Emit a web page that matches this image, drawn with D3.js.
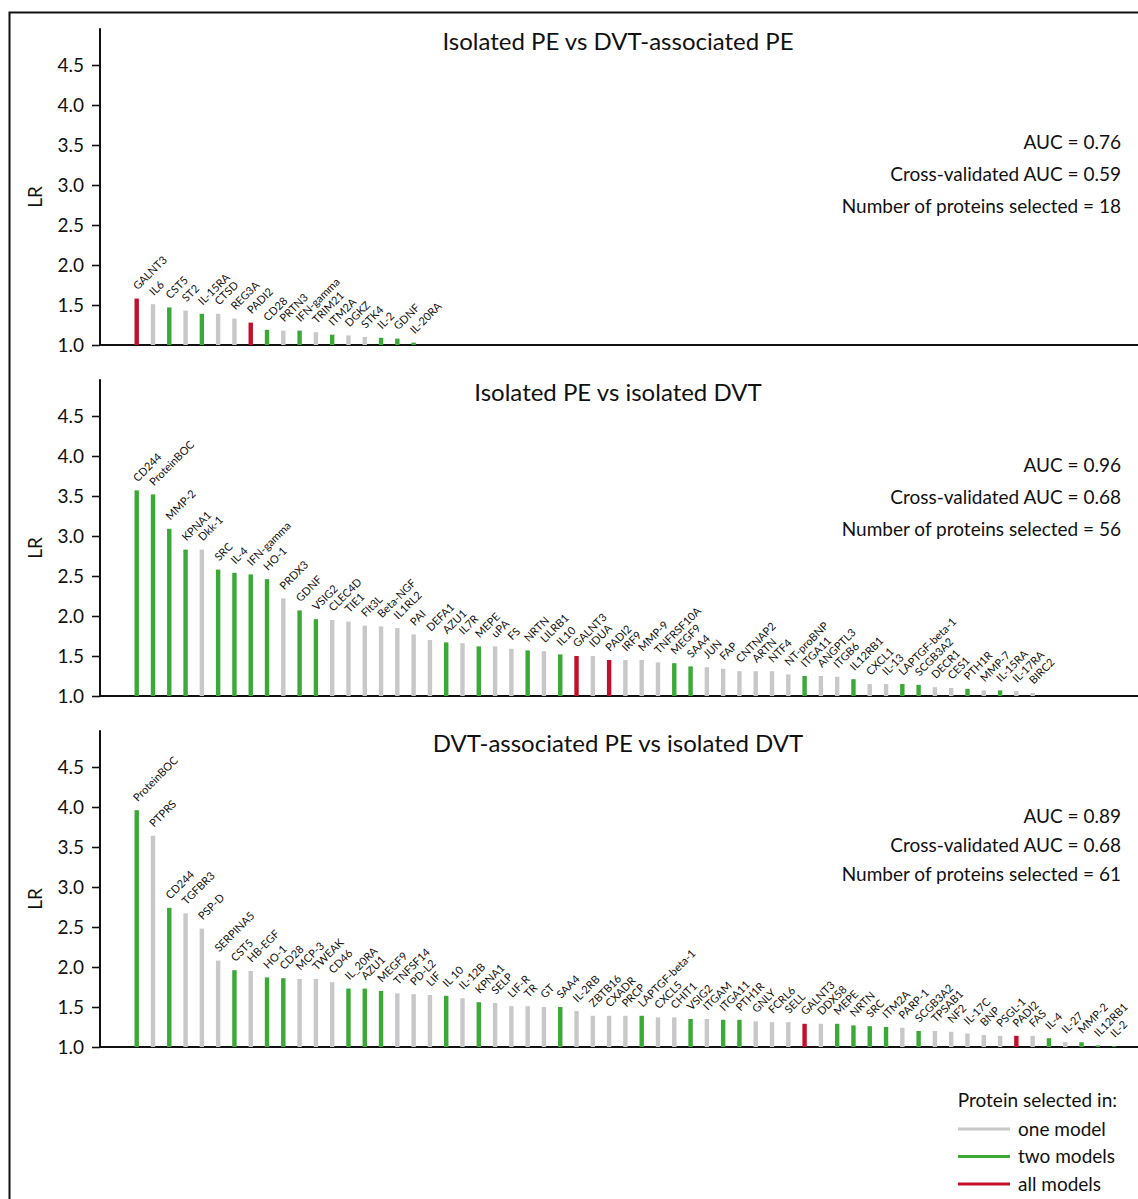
<!DOCTYPE html>
<html>
<head>
<meta charset="utf-8">
<script src="https://cdn.jsdelivr.net/npm/d3@7"></script>
<style>
  body { margin: 0; background: #fff; }
  svg { display: block; }
  text { font-family: Lato, "Open Sans", sans-serif; fill: #111; }
</style>
</head>
<body>
<svg id="chart" width="1138" height="1199"></svg>
<script>
// Model selection codes: 1 = one model, 2 = two models, 3 = all models
const p1Proteins = ["GALNT3","IL6","CST5","ST2","IL-15RA","CTSD","REG3A","PADI2","CD28","PRTN3",
  "IFN-gamma","TRIM21","ITM2A","DGKZ","STK4","IL-2","GDNF","IL-20RA"];
const p1LR = [1.58,1.51,1.47,1.43,1.39,1.39,1.33,1.28,1.19,1.18,1.18,1.16,1.13,1.12,1.10,1.09,1.08,1.03];
const p1Models = [3,1,2,1,2,1,1,3,2,1,2,1,2,1,1,2,2,2];

const p2Proteins = ["CD244","ProteinBOC","MMP-2","KPNA1","Dkk-1","SRC","IL-4","IFN-gamma","HO-1","PRDX3",
  "GDNF","VSIG2","CLEC4D","TIE1","Flt3L","Beta-NGF","IL1RL2","PAI","DEFA1","AZU1",
  "IL7R","MEPE","uPA","FS","NRTN","LILRB1","IL10","GALNT3","IDUA","PADI2",
  "IRF9","MMP-9","TNFRSF10A","MEGF9","SAA4","JUN","FAP","CNTNAP2","ARTN","NTF4",
  "NT-proBNP","ITGA11","ANGPTL3","ITGB6","IL12RB1","CXCL1","IL-13","LAPTGF-beta-1","SCGB3A2","DECR1",
  "CES1","PTH1R","MMP-7","IL-15RA","IL-17RA","BIRC2"];
const p2LR = [3.57,3.52,3.09,2.83,2.83,2.58,2.54,2.52,2.46,2.22,
  2.07,1.96,1.95,1.93,1.88,1.87,1.85,1.77,1.70,1.67,
  1.66,1.62,1.62,1.59,1.57,1.56,1.52,1.50,1.50,1.45,
  1.45,1.45,1.42,1.41,1.37,1.36,1.34,1.31,1.31,1.31,
  1.27,1.25,1.25,1.24,1.21,1.15,1.15,1.15,1.14,1.11,
  1.10,1.09,1.07,1.07,1.06,1.04];
const p2Models = [2,2,2,2,1,2,2,2,2,1,
  2,2,1,1,1,1,1,1,1,2,
  1,2,1,1,2,1,2,3,1,3,
  1,1,1,2,2,1,1,1,1,1,
  1,2,1,1,2,1,1,2,2,1,
  1,2,1,2,1,1];

const p3Proteins = ["ProteinBOC","PTPRS","CD244","TGFBR3","PSP-D","SERPINA5","CST5","HB-EGF","HO-1","CD28",
  "MCP-3","TWEAK","CD46","IL_20RA","AZU1","MEGF9","TNFSF14","PD-L2","LIF","IL 10",
  "IL-12B","KPNA1","SELP","LIF-R","TR","GT","SAA4","IL-2RB","ZBTB16","CXADR",
  "PRCP","LAPTGF-beta-1","CXCL5","CHIT1","VSIG2","ITGAM","ITGA11","PTH1R","GNLY","FCRL6",
  "SELL","GALNT3","DDX58","MEPE","NRTN","SRC","ITM2A","PARP-1","SCGB3A2","TPSAB1",
  "NF2","IL-17C","BNP","PSGL-1","PADI2","FAS","IL-4","IL-27","MMP-2","IL12RB1","IL-2"];
const p3LR = [3.96,3.64,2.74,2.67,2.48,2.08,1.96,1.95,1.87,1.86,
  1.85,1.85,1.81,1.73,1.73,1.70,1.67,1.66,1.65,1.64,
  1.61,1.56,1.55,1.51,1.51,1.50,1.50,1.45,1.39,1.39,
  1.39,1.39,1.37,1.37,1.35,1.35,1.34,1.34,1.32,1.31,
  1.31,1.29,1.29,1.29,1.27,1.26,1.25,1.24,1.20,1.20,
  1.19,1.17,1.15,1.14,1.14,1.14,1.11,1.06,1.06,1.02,1.01];
const p3Models = [2,1,2,1,1,1,2,1,2,2,
  1,1,1,2,2,2,1,1,1,2,
  1,2,1,1,1,1,2,1,1,1,
  1,2,1,1,2,1,2,2,1,1,
  1,3,1,2,2,2,2,1,2,1,
  1,1,1,1,3,1,2,1,2,2,2];

const panelTitles = ["Isolated PE vs DVT-associated PE", "Isolated PE vs isolated DVT", "DVT-associated PE vs isolated DVT"];
const aucValues = [0.76, 0.96, 0.89];
const cvAucValues = [0.59, 0.68, 0.68];
const nSelected = [18, 56, 61];
const lrTicks = [1.0, 1.5, 2.0, 2.5, 3.0, 3.5, 4.0, 4.5];
const legendLabels = ["one model", "two models", "all models"];
const modelColors = ["#c8c8c8", "#3aa935", "#c40f2c"];

const panels = [
  { proteins: p1Proteins, lr: p1LR, models: p1Models },
  { proteins: p2Proteins, lr: p2LR, models: p2Models },
  { proteins: p3Proteins, lr: p3LR, models: p3Models }
];

const svg = d3.select("#chart");
const W = 1138;

// outer frame (top and left edges)
svg.append("path")
  .attr("d", "M9.5,1199 V12.5 H1138")
  .attr("fill", "none").attr("stroke", "#111").attr("stroke-width", 2);

const axisX = 100;
const panelGap = 351;
const x = d3.scaleLinear().domain([0, 60]).range([136.7, 1114.1]);
const color = m => modelColors[m - 1];
const statDy = [[142, 174, 206], [465, 497, 529], [816, 845, 874]];

panels.forEach((p, i) => {
  const base = 345 + i * panelGap;
  const y = d3.scaleLinear().domain([1, 5]).range([base, base - 320]);
  const g = svg.append("g");

  // y axis
  const ax = g.append("g")
    .attr("transform", `translate(${axisX},0)`)
    .call(d3.axisLeft(y).tickValues(lrTicks).tickFormat(d3.format(".1f"))
      .tickSize(8).tickSizeOuter(0).tickPadding(8));
  ax.select(".domain").remove();
  ax.selectAll(".tick line").attr("stroke", "#111").attr("stroke-width", 1.6);
  ax.selectAll(".tick text").style("font-size", "19px").attr("fill", "#111");
  g.append("line")
    .attr("x1", axisX).attr("x2", axisX)
    .attr("y1", y(4.96)).attr("y2", base + 1)
    .attr("stroke", "#111").attr("stroke-width", 2);

  // x baseline
  g.append("line")
    .attr("x1", axisX).attr("x2", W)
    .attr("y1", base).attr("y2", base)
    .attr("stroke", "#111").attr("stroke-width", 2.2);

  // y label
  g.append("text")
    .attr("transform", `translate(42,${y(3.0) + 12}) rotate(-90)`)
    .attr("text-anchor", "middle")
    .style("font-size", "19px")
    .text("LR");

  // title
  g.append("text")
    .attr("x", 618).attr("y", base - 295.5)
    .attr("text-anchor", "middle")
    .style("font-size", "24px")
    .text(panelTitles[i]);

  // model statistics
  const stats = [`AUC = ${aucValues[i].toFixed(2)}`,
    `Cross-validated AUC = ${cvAucValues[i].toFixed(2)}`,
    `Number of proteins selected = ${nSelected[i]}`];
  stats.forEach((s, k) => {
    g.append("text")
      .attr("x", 1121).attr("y", statDy[i][k] + 6.5)
      .attr("text-anchor", "end")
      .style("font-size", "19px")
      .text(s);
  });

  // bars
  const data = p.proteins.map((name, j) => ({ name, lr: p.lr[j], model: p.models[j], idx: j }));
  g.selectAll("rect.bar").data(data).enter().append("rect")
    .attr("class", "bar")
    .attr("x", d => x(d.idx) - 2.2)
    .attr("width", 4.4)
    .attr("y", d => y(d.lr))
    .attr("height", d => base - y(d.lr))
    .attr("fill", d => color(d.model));

  // rotated protein labels
  g.selectAll("text.lab").data(data).enter().append("text")
    .attr("class", "lab")
    .attr("transform", d => `translate(${x(d.idx) + 1},${y(d.lr) - 8}) rotate(-45)`)
    .style("font-size", "11px")
    .text(d => d.name);
});

// legend
const lg = svg.append("g");
lg.append("text")
  .attr("x", 1117).attr("y", 1107)
  .attr("text-anchor", "end")
  .style("font-size", "19px")
  .text("Protein selected in:");
legendLabels.forEach((lab, k) => {
  const ly = 1129 + k * 27.5;
  lg.append("line")
    .attr("x1", 958).attr("x2", 1010)
    .attr("y1", ly).attr("y2", ly)
    .attr("stroke", modelColors[k]).attr("stroke-width", 3);
  lg.append("text")
    .attr("x", 1018).attr("y", ly + 6.5)
    .style("font-size", "19px")
    .text(lab);
});
</script>
</body>
</html>
